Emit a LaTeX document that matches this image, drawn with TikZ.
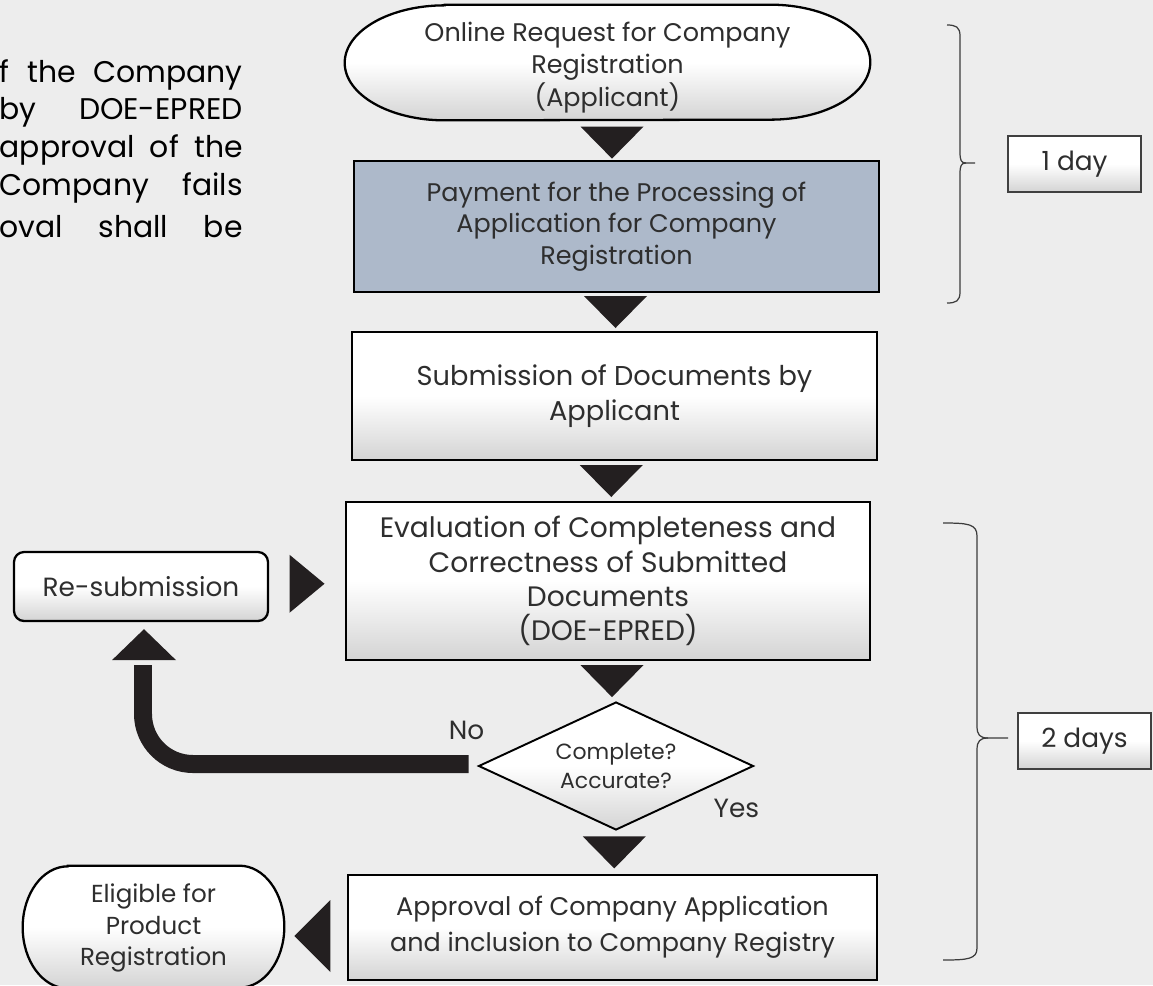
\documentclass[tikz,border=0pt]{standalone}
\usepackage{fontspec}
\setmainfont{Poppins}
\usetikzlibrary{shapes.geometric,calc,backgrounds}

\definecolor{bggray}{HTML}{EDEDED}
\definecolor{payblue}{HTML}{ADB9CA}
\definecolor{tridark}{HTML}{231F20}
\definecolor{inkgray}{HTML}{2E2E2E}
\definecolor{bracegray}{HTML}{3C3C3C}

\tikzset{
	boxline/.style={draw=black, line width=1.3pt, align=center, text=inkgray, inner sep=0pt},
	shadefill/.style={top color=white, bottom color=black!17, middle color=white},
	flowbox/.style={boxline, shadefill},
	paybox/.style={boxline, fill=payblue},
	termtext/.style={align=center, text=inkgray, inner sep=0pt},
	termshape/.style={draw=black, line width=1.3pt, shadefill},
	decbox/.style={diamond, aspect=2.15, draw=black, line width=1.1pt, shadefill, align=center, text=inkgray, inner sep=0pt},
	daybox/.style={draw=black!75, line width=0.8pt, shadefill, minimum width=2.66cm, minimum height=1.12cm, text=inkgray, font=\fontsize{15}{18}\selectfont},
	tri/.style={fill=tridark},
	brace/.style={draw=bracegray, line width=0.7pt},
	lbl/.style={text=inkgray, font=\fontsize{15}{18}\selectfont},
	para/.style={text=black, anchor=east, inner sep=0pt, font=\fontsize{17}{21}\selectfont}
}
\newcommand{\flowtri}[2]{\fill[tri] ($(#1)!0.5!(#2)$) +(-31.5,-16) -- +(31.5,-16) -- +(0,16) -- cycle;}

\begin{document}
\begin{tikzpicture}[x=0.02cm, y=-0.02cm]
	\useasboundingbox (0,0) rectangle (1153,985);

	% cut-off paragraph on the left
	\node[para] (p1) at (243,75) {\makebox[4.86cm][s]{f the Company}};
	\node[para] (p2) at (243,112) {\makebox[4.86cm][s]{by DOE-EPRED}};
	\node[para] (p3) at (243,150) {\makebox[4.86cm][s]{approval of the}};
	\node[para] (p4) at (243,188) {\makebox[4.86cm][s]{Company fails}};
	\node[para] (p5) at (243,227) {\makebox[4.86cm][s]{oval shall be}};

	% main column
	\node[termtext, font=\fontsize{14.5}{18.7}\selectfont, minimum width=10.5cm, minimum height=2.3cm] (req) at (607.5,67.5) {Online Request for Company\\Registration\\(Applicant)};
	\node[paybox, font=\fontsize{14.5}{17.9}\selectfont, minimum width=10.5cm, minimum height=2.62cm] (pay) at (616.5,226.5) {Payment for the Processing of\\Application for Company\\Registration};
	\node[flowbox, font=\fontsize{15.5}{19.8}\selectfont, minimum width=10.5cm, minimum height=2.56cm] (sub) at (614.5,396) {Submission of Documents by\\Applicant};
	\node[flowbox, font=\fontsize{16}{19.5}\selectfont, minimum width=10.48cm, minimum height=3.16cm] (eval) at (608,581) {Evaluation of Completeness and\\Correctness of Submitted\\Documents\\(DOE-EPRED)};
	\node[decbox, font=\fontsize{12.5}{16.4}\selectfont, minimum width=5.5cm, minimum height=2.56cm] (dec) at (616,766) {Complete?\\Accurate?};
	\node[flowbox, font=\fontsize{14.5}{20.4}\selectfont, minimum width=10.58cm, minimum height=2.1cm] (appr) at (612.5,927.5) {Approval of Company Application\\and inclusion to Company Registry};

	% side nodes
	\node[flowbox, rounded corners=0.2cm, font=\fontsize{15}{18}\selectfont, minimum width=5.08cm, minimum height=1.38cm] (resub) at (141,586.5) {Re-submission};
	\node[termtext, font=\fontsize{14}{18}\selectfont, minimum width=5.22cm, minimum height=2.44cm] (elig) at (153.5,928) {Eligible for\\Product\\Registration};
	\node[daybox] (day1) at (1074.5,164) {1 day};
	\node[daybox] (day2) at (1084.5,741) {2 days};

	\begin{scope}[on background layer]
		\fill[bggray] (0,0) rectangle (1153,985);
		\draw[termshape] ($(req.north west)+(100,-5)$) -- ($(req.north east)+(-100,-5)$) arc[start angle=-90, end angle=90, x radius=100, y radius=57.5] -- ($(req.south west)+(100,-5)$) arc[start angle=90, end angle=270, x radius=100, y radius=57.5] -- cycle;
		\draw[termshape] ($(elig.north west)+(45,-1)$) -- ($(elig.north east)+(-45,-1)$) arc[start angle=-90, end angle=90, x radius=45, y radius=61] -- ($(elig.south west)+(45,-1)$) arc[start angle=90, end angle=270, x radius=45, y radius=61] -- cycle;
	\end{scope}

	% arrow heads
	\flowtri{req.south}{pay.north}
	\flowtri{pay.south}{sub.north}
	\flowtri{sub.south}{eval.north}
	\flowtri{eval.south}{dec.north}
	\flowtri{dec.south}{appr.north}
	\fill[tri] ($(resub.east)!0.5!(eval.west)$) +(-17.5,-29) -- +(17.5,0) -- +(-17.5,29) -- cycle;
	\fill[tri] ($(elig.east)+(28,8)$) +(18,-36) -- +(-18,0) -- +(18,36) -- cycle;

	% the no loop
	\draw[line width=0.36cm, draw=tridark, rounded corners=1cm] ($(dec.west)+(-9,-2)$) -| ($(resub.south)+(2,43)$);
	\fill[tri] ($(resub.south)+(3,7)$) -- +(-32,31) -- +(32,31) -- cycle;
	\node[lbl] (no) at ($(dec.west)+(-11,-36)$) {No};
	\node[lbl] (yes) at ($(dec.east)+(-18,42)$) {Yes};

	% braces
	\draw[brace] (947,25) .. controls (956,25) and (960,27) .. (960,36) -- (960,152) .. controls (960,160) and (961,163) .. (966,163) -- (975,163);
	\draw[brace] (947,303) .. controls (956,303) and (960,301) .. (960,292) -- (960,174) .. controls (960,166) and (961,163) .. (966,163);
	\draw[brace] (943,523) .. controls (968,523) and (977,524) .. (977,536) -- (977,726) .. controls (977,735) and (980,738) .. (988,738) -- (1008,738);
	\draw[brace] (943,960) .. controls (968,960) and (977,959) .. (977,948) -- (977,750) .. controls (977,741) and (980,738) .. (988,738);
\end{tikzpicture}
\end{document}
